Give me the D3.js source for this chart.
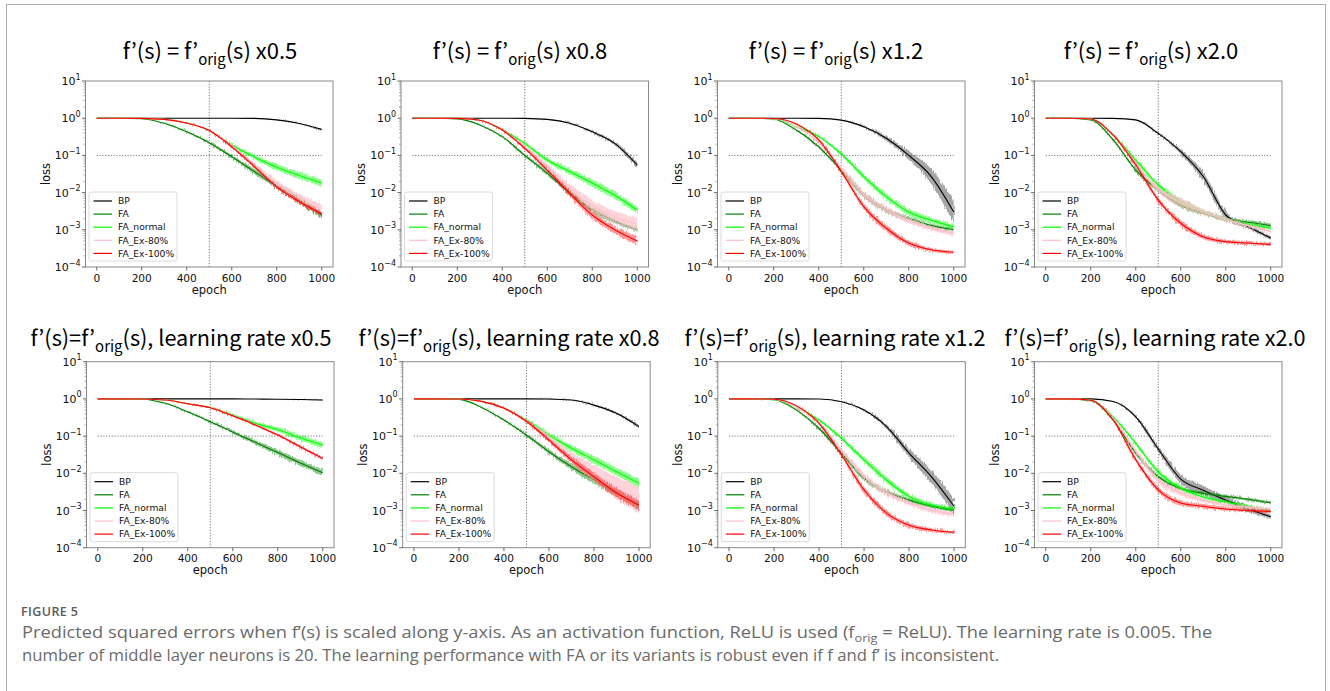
<!DOCTYPE html>
<html>
<head>
<meta charset="utf-8">
<script src="https://cdn.jsdelivr.net/npm/d3@7"></script>
<style>
  body { margin: 0; background: #fff; }
  svg { display: block; }
</style>
</head>
<body>
<svg id="fig" width="1330" height="691"></svg>
<script>
// ---- Data ----
const epochs = [0, 100, 200, 300, 400, 500, 600, 700, 800, 900, 1000];
const seriesNames = ["BP", "FA", "FA_normal", "FA_Ex-80%", "FA_Ex-100%"];
const yTickExps = [1, 0, -1, -2, -3, -4];
const xTicks = [0, 200, 400, 600, 800, 1000];

const topLabels = ["x0.5", "x0.8", "x1.2", "x2.0"];
const bottomLabels = ["x0.5", "x0.8", "x1.2", "x2.0"];

// mean loss per series (order of seriesNames), band = half-width in decades
const meanScale05 = [
  [1, 1, 1, 1, 1, 1, 1, 0.99, 0.9, 0.72, 0.5],
  [1, 1, 0.97, 0.73, 0.43, 0.22, 0.092, 0.037, 0.015, 0.0063, 0.0025],
  [1, 1, 0.99, 0.93, 0.74, 0.47, 0.19, 0.09, 0.048, 0.029, 0.018],
  [1, 1, 0.99, 0.93, 0.74, 0.47, 0.18, 0.055, 0.017, 0.007, 0.0035],
  [1, 1, 0.99, 0.93, 0.74, 0.47, 0.17, 0.05, 0.014, 0.0057, 0.0027]
];
const bandScale05 = [
  [0, 0, 0, 0, 0, 0, 0, 0, 0.01, 0.01, 0.02],
  [0, 0, 0, 0.01, 0.02, 0.03, 0.05, 0.07, 0.08, 0.09, 0.1],
  [0, 0, 0, 0, 0.01, 0.02, 0.04, 0.06, 0.08, 0.09, 0.1],
  [0, 0, 0, 0, 0.01, 0.02, 0.04, 0.06, 0.1, 0.12, 0.14],
  [0, 0, 0, 0, 0.01, 0.02, 0.03, 0.04, 0.05, 0.06, 0.07]
];

const meanScale08 = [
  [1, 1, 1, 1, 1, 0.99, 0.93, 0.73, 0.43, 0.21, 0.055],
  [1, 1, 0.96, 0.66, 0.32, 0.1, 0.033, 0.01, 0.0035, 0.0017, 0.001],
  [1, 1, 0.99, 0.88, 0.48, 0.21, 0.075, 0.037, 0.018, 0.0085, 0.0034],
  [1, 1, 0.99, 0.88, 0.48, 0.17, 0.05, 0.013, 0.0045, 0.0022, 0.0014],
  [1, 1, 0.99, 0.88, 0.48, 0.155, 0.04, 0.0095, 0.0025, 0.001, 0.0005]
];
const bandScale08 = [
  [0, 0, 0, 0, 0, 0, 0.01, 0.02, 0.03, 0.05, 0.08],
  [0, 0, 0, 0.01, 0.02, 0.04, 0.06, 0.07, 0.07, 0.06, 0.05],
  [0, 0, 0, 0.01, 0.02, 0.04, 0.06, 0.08, 0.1, 0.1, 0.1],
  [0, 0, 0, 0.01, 0.02, 0.04, 0.08, 0.12, 0.15, 0.16, 0.18],
  [0, 0, 0, 0.01, 0.02, 0.03, 0.05, 0.08, 0.1, 0.1, 0.12]
];

const meanScale12 = [
  [1, 1, 1, 1, 0.99, 0.89, 0.59, 0.29, 0.1, 0.027, 0.003],
  [1, 1, 0.95, 0.48, 0.17, 0.04, 0.0087, 0.0034, 0.002, 0.0013, 0.001],
  [1, 1, 0.97, 0.6, 0.32, 0.11, 0.027, 0.0078, 0.003, 0.0018, 0.0012],
  [1, 1, 0.97, 0.6, 0.22, 0.045, 0.009, 0.0035, 0.0018, 0.0011, 0.0008],
  [1, 1, 0.98, 0.7, 0.26, 0.037, 0.0042, 0.0011, 0.00044, 0.00029, 0.00025]
];
const bandScale12 = [
  [0, 0, 0, 0, 0, 0.01, 0.03, 0.06, 0.12, 0.2, 0.3],
  [0, 0, 0.01, 0.02, 0.04, 0.06, 0.08, 0.07, 0.06, 0.05, 0.05],
  [0, 0, 0, 0.02, 0.03, 0.05, 0.07, 0.08, 0.08, 0.07, 0.06],
  [0, 0, 0, 0.02, 0.04, 0.06, 0.08, 0.08, 0.07, 0.06, 0.06],
  [0, 0, 0, 0.01, 0.03, 0.05, 0.08, 0.09, 0.07, 0.05, 0.04]
];

const meanScale20 = [
  [1, 1, 1, 0.99, 0.9, 0.39, 0.126, 0.027, 0.0025, 0.0012, 0.0006],
  [1, 1, 0.9, 0.26, 0.04, 0.0117, 0.0046, 0.0028, 0.0019, 0.0016, 0.0013],
  [1, 1, 0.95, 0.35, 0.075, 0.016, 0.0057, 0.0031, 0.0019, 0.0014, 0.0011],
  [1, 1, 0.95, 0.35, 0.06, 0.012, 0.0055, 0.003, 0.0019, 0.0013, 0.0009],
  [1, 1, 0.95, 0.35, 0.055, 0.0063, 0.0015, 0.00065, 0.00048, 0.00044, 0.0004]
];
const bandScale20 = [
  [0, 0, 0, 0, 0.01, 0.03, 0.06, 0.12, 0.1, 0.06, 0.05],
  [0, 0, 0.01, 0.03, 0.05, 0.06, 0.06, 0.05, 0.05, 0.05, 0.05],
  [0, 0, 0, 0.03, 0.05, 0.06, 0.07, 0.06, 0.05, 0.05, 0.05],
  [0, 0, 0, 0.03, 0.05, 0.08, 0.12, 0.08, 0.06, 0.05, 0.05],
  [0, 0, 0, 0.02, 0.05, 0.07, 0.08, 0.06, 0.05, 0.05, 0.04]
];

const meanLr05 = [
  [1, 1, 1, 1, 1, 1, 1, 0.99, 0.98, 0.96, 0.93],
  [1, 1, 0.98, 0.76, 0.45, 0.244, 0.129, 0.068, 0.036, 0.019, 0.0104],
  [1, 1, 0.99, 0.93, 0.74, 0.59, 0.37, 0.22, 0.15, 0.09, 0.057],
  [1, 1, 0.99, 0.93, 0.74, 0.58, 0.35, 0.2, 0.107, 0.052, 0.025],
  [1, 1, 0.99, 0.93, 0.74, 0.58, 0.35, 0.2, 0.107, 0.052, 0.025]
];
const bandLr05 = [
  [0, 0, 0, 0, 0, 0, 0, 0, 0, 0.01, 0.01],
  [0, 0, 0, 0.01, 0.02, 0.03, 0.04, 0.06, 0.07, 0.08, 0.09],
  [0, 0, 0, 0, 0.01, 0.02, 0.03, 0.05, 0.06, 0.07, 0.08],
  [0, 0, 0, 0, 0.01, 0.02, 0.03, 0.03, 0.04, 0.04, 0.05],
  [0, 0, 0, 0, 0.01, 0.01, 0.02, 0.02, 0.03, 0.03, 0.03]
];

const meanLr08 = [
  [1, 1, 1, 1, 1, 1, 0.99, 0.93, 0.68, 0.41, 0.18],
  [1, 1, 0.97, 0.59, 0.27, 0.107, 0.038, 0.015, 0.0066, 0.0029, 0.0013],
  [1, 1, 0.99, 0.86, 0.56, 0.27, 0.107, 0.047, 0.023, 0.011, 0.0054],
  [1, 1, 0.99, 0.86, 0.56, 0.25, 0.085, 0.027, 0.01, 0.004, 0.0019],
  [1, 1, 0.99, 0.86, 0.56, 0.25, 0.078, 0.023, 0.0081, 0.003, 0.0014]
];
const bandLr08 = [
  [0, 0, 0, 0, 0, 0, 0.01, 0.01, 0.02, 0.03, 0.05],
  [0, 0, 0, 0.01, 0.02, 0.04, 0.06, 0.08, 0.1, 0.1, 0.1],
  [0, 0, 0, 0.01, 0.02, 0.04, 0.06, 0.08, 0.1, 0.1, 0.12],
  [0, 0, 0, 0.01, 0.02, 0.05, 0.1, 0.15, 0.22, 0.3, 0.35],
  [0, 0, 0, 0.01, 0.02, 0.03, 0.05, 0.08, 0.1, 0.12, 0.12]
];

const meanLr12 = [
  [1, 1, 1, 1, 0.99, 0.84, 0.5, 0.18, 0.035, 0.008, 0.0013],
  [1, 1, 0.95, 0.5, 0.16, 0.035, 0.0073, 0.0032, 0.0019, 0.0013, 0.001],
  [1, 1, 0.97, 0.6, 0.27, 0.087, 0.023, 0.0066, 0.0024, 0.0014, 0.0011],
  [1, 1, 0.97, 0.6, 0.22, 0.04, 0.0085, 0.003, 0.0016, 0.001, 0.0008],
  [1, 1, 0.98, 0.65, 0.22, 0.031, 0.0036, 0.00085, 0.0004, 0.0003, 0.00026]
];
const bandLr12 = [
  [0, 0, 0, 0, 0, 0.01, 0.03, 0.06, 0.12, 0.18, 0.2],
  [0, 0, 0.01, 0.02, 0.04, 0.06, 0.07, 0.06, 0.05, 0.05, 0.05],
  [0, 0, 0, 0.02, 0.03, 0.05, 0.07, 0.08, 0.07, 0.06, 0.05],
  [0, 0, 0, 0.02, 0.04, 0.06, 0.08, 0.07, 0.06, 0.06, 0.05],
  [0, 0, 0, 0.01, 0.03, 0.05, 0.08, 0.08, 0.07, 0.05, 0.04]
];

const meanLr20 = [
  [1, 1, 1, 0.85, 0.33, 0.045, 0.007, 0.0035, 0.0019, 0.0011, 0.00068],
  [1, 1, 0.9, 0.27, 0.035, 0.0081, 0.0039, 0.0029, 0.0024, 0.002, 0.0016],
  [1, 1, 0.92, 0.33, 0.064, 0.011, 0.004, 0.0023, 0.0017, 0.0013, 0.001],
  [1, 1, 0.92, 0.3, 0.04, 0.0065, 0.003, 0.0019, 0.0014, 0.0012, 0.0011],
  [1, 1, 0.92, 0.27, 0.023, 0.0036, 0.0016, 0.0013, 0.0011, 0.001, 0.00095]
];
const bandLr20 = [
  [0, 0, 0, 0.01, 0.04, 0.08, 0.12, 0.12, 0.1, 0.08, 0.06],
  [0, 0, 0.01, 0.03, 0.05, 0.05, 0.05, 0.04, 0.04, 0.04, 0.04],
  [0, 0, 0.01, 0.03, 0.05, 0.06, 0.06, 0.05, 0.05, 0.05, 0.05],
  [0, 0, 0.01, 0.03, 0.06, 0.08, 0.08, 0.06, 0.05, 0.05, 0.05],
  [0, 0, 0.01, 0.03, 0.06, 0.08, 0.07, 0.06, 0.05, 0.05, 0.05]
];

// ---- Style / layout ----
const colors = ["#000000", "#008000", "#00ff00", "#ffc0cb", "#ff0000"];
const bandOpacity = [0.35, 0.45, 0.45, 0.7, 0.4];
const plotW = 247.5, plotH = 186;
const tickFont = "'DejaVu Sans', sans-serif";
const titleFont = "'Noto Sans CJK JP', 'Noto Sans', sans-serif";

const panels = [
  { mean: meanScale05, band: bandScale05, left: 85.5,  top: 81,    kind: "top", label: topLabels[0], tx: 210 },
  { mean: meanScale08, band: bandScale08, left: 401,   top: 81,    kind: "top", label: topLabels[1], tx: 520 },
  { mean: meanScale12, band: bandScale12, left: 717.5, top: 81,    kind: "top", label: topLabels[2], tx: 836 },
  { mean: meanScale20, band: bandScale20, left: 1034.5,top: 81,    kind: "top", label: topLabels[3], tx: 1151 },
  { mean: meanLr05,    band: bandLr05,    left: 86.5,  top: 361.7, kind: "bottom", label: bottomLabels[0], tx: 181 },
  { mean: meanLr08,    band: bandLr08,    left: 402.7, top: 361.7, kind: "bottom", label: bottomLabels[1], tx: 509 },
  { mean: meanLr12,    band: bandLr12,    left: 717.8, top: 361.7, kind: "bottom", label: bottomLabels[2], tx: 835 },
  { mean: meanLr20,    band: bandLr20,    left: 1034.5,top: 361.7, kind: "bottom", label: bottomLabels[3], tx: 1155 }
];

const svg = d3.select("#fig");
svg.append("rect").attr("width", 1330).attr("height", 691).attr("fill", "#fff");

// jagged edge for the spread bands (texture only)
const defs = svg.append("defs");
const jf = defs.append("filter").attr("id", "jitter")
  .attr("x", "-5%").attr("y", "-20%").attr("width", "110%").attr("height", "140%");
jf.append("feTurbulence").attr("type", "fractalNoise")
  .attr("baseFrequency", "0.9 0.15").attr("numOctaves", 1).attr("seed", 3).attr("result", "noise");
jf.append("feDisplacementMap").attr("in", "SourceGraphic").attr("in2", "noise")
  .attr("scale", 5).attr("xChannelSelector", "R").attr("yChannelSelector", "G");

// outer frame of the figure
svg.append("rect")
  .attr("x", 6.5).attr("y", 4.5)
  .attr("width", 1319).attr("height", 720)
  .attr("fill", "none").attr("stroke", "#b0b0b0").attr("stroke-width", 1);

panels.forEach((p, pi) => {
  const x = d3.scaleLinear([-50, 1050], [p.left, p.left + plotW]);
  const y = d3.scaleLog([1e-4, 1e1], [p.top + plotH, p.top]);
  const g = svg.append("g");

  // title
  const tBase = p.kind === "top" ? p.top - 22 : p.top - 15.5;
  const title = g.append("text")
    .attr("x", p.tx).attr("y", tBase)
    .attr("text-anchor", "middle")
    .attr("font-family", titleFont)
    .attr("font-size", p.kind === "top" ? 22 : 21.7)
    .attr("fill", "#000");
  if (p.kind === "top") {
    title.append("tspan").text("f’(s) = f’");
    title.append("tspan").attr("font-size", 15).attr("dy", 6).text("orig");
    title.append("tspan").attr("dy", -6).text("(s) " + p.label);
  } else {
    title.append("tspan").text("f’(s)=f’");
    title.append("tspan").attr("font-size", 15).attr("dy", 6).text("orig");
    title.append("tspan").attr("dy", -6).text("(s), learning rate " + p.label);
  }

  const clipId = "clip" + pi;
  g.append("clipPath").attr("id", clipId)
    .append("rect").attr("x", p.left).attr("y", p.top).attr("width", plotW).attr("height", plotH);

  const plot = g.append("g").attr("clip-path", `url(#${clipId})`);

  // reference lines
  plot.append("line")
    .attr("x1", x(500)).attr("x2", x(500))
    .attr("y1", p.top).attr("y2", p.top + plotH)
    .attr("stroke", "#666").attr("stroke-width", 0.9).attr("stroke-dasharray", "1.2,1.6");
  plot.append("line")
    .attr("x1", x(0)).attr("x2", x(1000))
    .attr("y1", y(0.1)).attr("y2", y(0.1))
    .attr("stroke", "#666").attr("stroke-width", 0.9).attr("stroke-dasharray", "1.2,1.6");

  const line = d3.line()
    .x((d, i) => x(epochs[i]))
    .y(d => y(d))
    .curve(d3.curveMonotoneX);

  const area = d3.area()
    .x((d, i) => x(epochs[i]))
    .y0(d => y(d[0] / Math.pow(10, d[1])))
    .y1(d => y(d[0] * Math.pow(10, d[1])))
    .curve(d3.curveMonotoneX);

  seriesNames.forEach((name, si) => {
    const m = p.mean[si];
    const b = p.band[si];
    plot.append("path")
      .attr("d", area(m.map((v, i) => [v, b[i]])))
      .attr("fill", colors[si])
      .attr("fill-opacity", bandOpacity[si])
      .attr("filter", "url(#jitter)");
    plot.append("path")
      .attr("d", line(m))
      .attr("fill", "none")
      .attr("stroke", colors[si])
      .attr("stroke-width", 1.1);
  });

  // frame
  g.append("rect")
    .attr("x", p.left).attr("y", p.top).attr("width", plotW).attr("height", plotH)
    .attr("fill", "none").attr("stroke", "#8a8a8a").attr("stroke-width", 1);

  // y axis: major + minor ticks
  yTickExps.forEach(e => {
    const yy = y(Math.pow(10, e));
    g.append("line").attr("x1", p.left - 3.5).attr("x2", p.left).attr("y1", yy).attr("y2", yy)
      .attr("stroke", "#444").attr("stroke-width", 0.8);
    const t = g.append("text")
      .attr("x", p.left - 5).attr("y", yy + 4)
      .attr("text-anchor", "end")
      .attr("font-family", tickFont).attr("font-size", 11).attr("fill", "#111");
    t.append("tspan").text("10");
    t.append("tspan").attr("font-size", 8).attr("dy", -5.5).text(e < 0 ? "−" + (-e) : String(e));
    if (e > -4) {
      for (let k = 2; k <= 9; k++) {
        const ym = y(k * Math.pow(10, e - 1));
        g.append("line").attr("x1", p.left - 2).attr("x2", p.left).attr("y1", ym).attr("y2", ym)
          .attr("stroke", "#777").attr("stroke-width", 0.6);
      }
    }
  });

  // x axis ticks
  xTicks.forEach(v => {
    const xx = x(v);
    g.append("line").attr("x1", xx).attr("x2", xx).attr("y1", p.top + plotH).attr("y2", p.top + plotH + 3.5)
      .attr("stroke", "#444").attr("stroke-width", 0.8);
    g.append("text")
      .attr("x", xx).attr("y", p.top + plotH + 14.5)
      .attr("text-anchor", "middle")
      .attr("font-family", tickFont).attr("font-size", 10.6).attr("fill", "#111")
      .text(v);
  });

  // axis labels
  g.append("text")
    .attr("x", p.left + plotW / 2).attr("y", p.top + plotH + 26.5)
    .attr("text-anchor", "middle")
    .attr("font-family", tickFont).attr("font-size", 11.5).attr("fill", "#111")
    .text("epoch");
  g.append("text")
    .attr("transform", `translate(${p.left - 36},${p.top + plotH / 2}) rotate(-90)`)
    .attr("text-anchor", "middle")
    .attr("font-family", tickFont).attr("font-size", 11.5).attr("fill", "#111")
    .text("loss");

  // legend
  const lx = p.left + 3.5, ly = p.top + plotH - 75;
  const lg = g.append("g");
  lg.append("rect")
    .attr("x", lx).attr("y", ly).attr("width", 88).attr("height", 69).attr("rx", 2.5)
    .attr("fill", "#fff").attr("fill-opacity", 0.85)
    .attr("stroke", "#d0d0d0").attr("stroke-width", 0.8);
  seriesNames.forEach((name, si) => {
    const yy = ly + 9 + si * 13.1;
    lg.append("line").attr("x1", lx + 4.5).attr("x2", lx + 23).attr("y1", yy).attr("y2", yy)
      .attr("stroke", colors[si]).attr("stroke-width", 1.2);
    lg.append("text").attr("x", lx + 29).attr("y", yy + 3.2)
      .attr("font-family", tickFont).attr("font-size", 9.2).attr("fill", "#111")
      .text(name);
  });
});

// ---- Caption ----
const capFont = "'Open Sans', 'Noto Sans', sans-serif";
svg.append("text")
  .attr("x", 21).attr("y", 615.5)
  .attr("font-family", capFont).attr("font-size", 12.5).attr("font-weight", 600)
  .attr("fill", "#5a5a5a").attr("letter-spacing", 0.4)
  .text("FIGURE 5");

// fit a caption line to the width it has in the figure
function fitLine(sel, x0, yBase, width) {
  const w = sel.node().getComputedTextLength();
  sel.attr("transform", `translate(${x0},${yBase}) scale(${width / w},1)`);
}

const cap1 = svg.append("text")
  .attr("font-family", capFont).attr("font-size", 16.5).attr("fill", "#6b6b6b");
cap1.append("tspan").text("Predicted squared errors when f’(s) is scaled along y-axis. As an activation function, ReLU is used (f");
cap1.append("tspan").attr("font-size", 11.5).attr("dy", 3.5).text("orig");
cap1.append("tspan").attr("dy", -3.5).text(" = ReLU). The learning rate is 0.005. The");
fitLine(cap1, 22, 638, 1191);

const cap2 = svg.append("text")
  .attr("font-family", capFont).attr("font-size", 16.5).attr("fill", "#6b6b6b")
  .text("number of middle layer neurons is 20. The learning performance with FA or its variants is robust even if f and f’ is inconsistent.");
fitLine(cap2, 22, 661, 978);
</script>
</body>
</html>
